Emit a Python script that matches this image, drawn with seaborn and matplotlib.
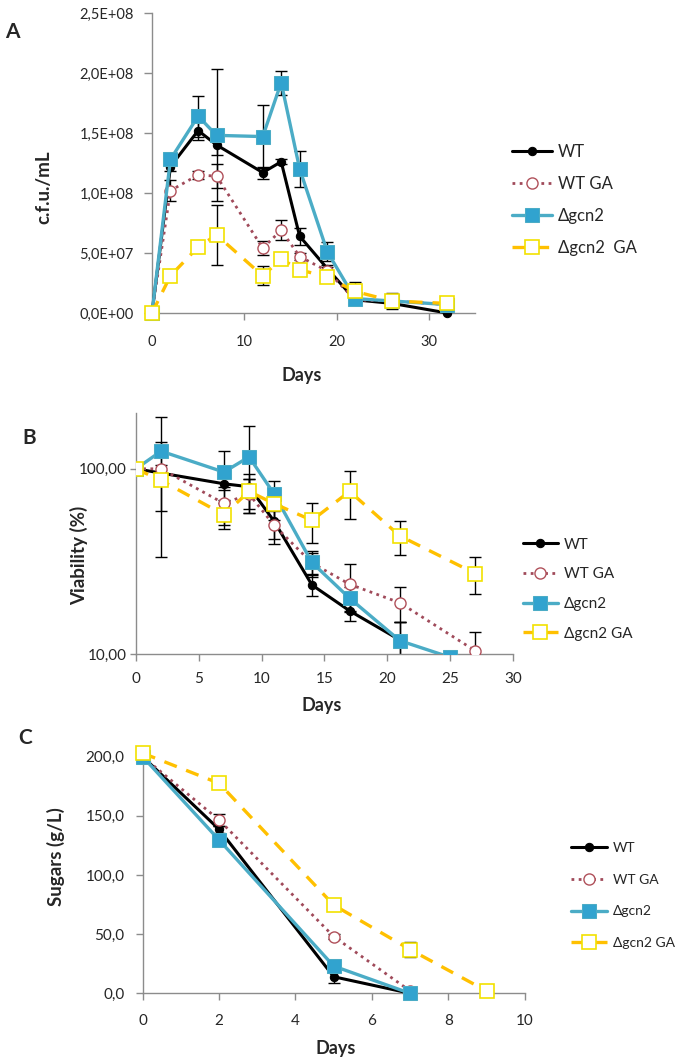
import numpy as np
import pandas as pd
import matplotlib
matplotlib.use("Agg")
import matplotlib.pyplot as plt
from matplotlib.ticker import FixedLocator, FuncFormatter, NullLocator
import seaborn as sns

sns.set_style("white")
plt.rcParams['font.family'] = ['Lato', 'DejaVu Sans']

labels = ['WT', 'WT GA', 'Δgcn2', 'Δgcn2  GA']
labels_bc = ['WT', 'WT GA', 'Δgcn2', 'Δgcn2 GA']

# panel A - c.f.u./mL
days_a = [0, 2, 5, 7, 12, 14, 16, 19, 22, 26, 32]
wt_a = [0, 1.22e8, 1.52e8, 1.40e8, 1.17e8, 1.26e8, 0.64e8, 0.37e8, 0.11e8, 0.08e8, 0]
wt_ga_a = [0, 1.02e8, 1.15e8, 1.14e8, 0.54e8, 0.69e8, 0.47e8, 0.35e8, 0.11e8, 0.10e8, 0.07e8]
gcn2_a = [0, 1.28e8, 1.64e8, 1.48e8, 1.47e8, 1.92e8, 1.20e8, 0.51e8, 0.12e8, 0.10e8, 0.07e8]
gcn2_ga_a = [0, 0.31e8, 0.55e8, 0.65e8, 0.31e8, 0.45e8, 0.36e8, 0.30e8, 0.18e8, 0.10e8, 0.08e8]
wt_a_err = [0, 0.04e8, 0.08e8, 0.08e8, 0.05e8, 0.02e8, 0.07e8, 0.03e8, 0.02e8, 0.02e8, 0]
wt_ga_a_err = [0, 0.09e8, 0.03e8, 0.10e8, 0.06e8, 0.085e8, 0.03e8, 0.03e8, 0.02e8, 0.02e8, 0.02e8]
gcn2_a_err = [0, 0.03e8, 0.17e8, 0.55e8, 0.26e8, 0.10e8, 0.15e8, 0.08e8, 0.03e8, 0.02e8, 0.01e8]
gcn2_ga_a_err = [0, 0.02e8, 0.03e8, 0.25e8, 0.08e8, 0.03e8, 0.03e8, 0.02e8, 0.08e8, 0.07e8, 0.01e8]

# panel B - viability (%)
wt_b_days = [0, 7, 9, 11, 14, 17, 21]
wt_b = [100, 83, 80, 52, 23.6, 17.1, 11.9]
wt_b_err = [0, 6, 8, 10, 3, 2, 3]
wt_ga_b_days = [0, 2, 7, 9, 11, 14, 17, 21, 27]
wt_ga_b = [100, 100, 65, 73, 49.5, 31, 23.8, 18.9, 10.4]
wt_ga_b_err = [0, 5, 15, 15, 10, 5, 7, 4, 2.8]
gcn2_b_days = [0, 2, 7, 9, 11, 14, 17, 21, 25]
gcn2_b = [100, 124.5, 96, 116, 73, 31.2, 20, 11.8, 9.6]
gcn2_b_err = [0, 65, 28, 55, 13, 4, 3, 3, 0]
gcn2_ga_b_days = [0, 2, 7, 9, 11, 14, 17, 21, 27]
gcn2_ga_b = [100, 86.5, 56.5, 75.5, 64.8, 52.7, 75.5, 43.4, 27.2]
gcn2_ga_b_err = [0, 53, 9, 18, 12, 13, 22, 9, 6]

# panel C - sugars (g/L)
days_c = [0, 2, 5, 7]
wt_c = [200, 138.6, 14, 0]
wt_c_err = [0, 3, 5, 0]
wt_ga_c = [200, 146.5, 48, 2]
wt_ga_c_err = [0, 5, 2, 0]
gcn2_c = [200, 129.6, 23, 0]
gcn2_c_err = [0, 2, 2, 0]
gcn2_ga_c_days = [0, 2, 5, 7, 9]
gcn2_ga_c = [203, 177.5, 74.6, 37, 2]
gcn2_ga_c_err = [0, 2, 3, 6, 0]

styles = [
    dict(color='black', linestyle='-', linewidth=2.2, marker='o', markersize=6,
         markerfacecolor='black', markeredgecolor='black'),
    dict(color='#A04A5A', linestyle=(0, (1, 1.6)), linewidth=2.0, marker='o', markersize=8,
         markerfacecolor='white', markeredgecolor='#B0505A', markeredgewidth=1.0),
    dict(color='#4BACC6', linestyle='-', linewidth=2.4, marker='s', markersize=9.5,
         markerfacecolor='#31A3CF', markeredgecolor='#4BACC6'),
    dict(color='#FFC000', linestyle=(0, (4, 3)), linewidth=2.4, marker='s', markersize=10,
         markerfacecolor='white', markeredgecolor='#F2E100', markeredgewidth=1.2),
]

fig = plt.figure(figsize=(6.85, 10.61), dpi=100)
ax_a = fig.add_axes([0.2219, 0.705, 0.4715, 0.2828])
ax_b = fig.add_axes([0.1985, 0.3836, 0.5504, 0.2271])
ax_c = fig.add_axes([0.2083, 0.0638, 0.5577, 0.2230])


def draw(ax, series, legend_labels, anchor, fs, spacing, hl, pad):
    for (x, y, e) in series:
        ax.errorbar(x, y, yerr=e, fmt='none', ecolor='black', elinewidth=1.0,
                    capsize=4, capthick=1.0, zorder=2)
    for i, ((x, y, e), st, lab) in enumerate(zip(series, styles, legend_labels)):
        df = pd.DataFrame({'Days': x, 'val': y})
        sns.lineplot(data=df, x='Days', y='val', ax=ax, sort=False, label=lab,
                     zorder=3 + i, clip_on=False, **st)
    h, l = ax.get_legend_handles_labels()
    ax.legend(h, l, loc='upper left', bbox_to_anchor=anchor,
              bbox_transform=fig.transFigure, frameon=False, fontsize=fs,
              handlelength=hl, handletextpad=pad, labelspacing=spacing, borderpad=0)
    for s in ['top', 'right']:
        ax.spines[s].set_visible(False)
    for s in ['left', 'bottom']:
        ax.spines[s].set_color('#8C8C8C')
        ax.spines[s].set_linewidth(1.0)
    ax.tick_params(axis='both', which='major', direction='out', length=5, width=1,
                   color='#8C8C8C', labelcolor='#262626', bottom=True, left=True)
    ax.set_xlabel('Days', fontsize=13, fontweight='bold')


# A
draw(ax_a, [(days_a, wt_a, wt_a_err), (days_a, wt_ga_a, wt_ga_a_err),
            (days_a, gcn2_a, gcn2_a_err), (days_a, gcn2_ga_a, gcn2_ga_a_err)],
     labels, (0.735, 0.872), 12, 0.95, 2.4, 0.35)
ax_a.set_xlim(0, 35)
ax_a.set_ylim(0, 2.5e8)
ax_a.set_xticks([0, 10, 20, 30])
ax_a.set_yticks(np.arange(0, 2.51e8, 0.5e8))
ax_a.yaxis.set_major_formatter(FuncFormatter(
    lambda v, p: ('%.1E' % v).replace('.', ',')))
ax_a.tick_params(axis='both', labelsize=10.5)
ax_a.tick_params(axis='x', pad=11)
ax_a.tick_params(axis='y', pad=7, length=6)
ax_a.set_ylabel('c.f.u./mL', fontsize=13.5, fontweight='bold')
ax_a.yaxis.set_label_coords(-0.31, 0.42)
ax_a.xaxis.set_label_coords(0.464, -0.18)

# B
draw(ax_b, [(wt_b_days, wt_b, wt_b_err), (wt_ga_b_days, wt_ga_b, wt_ga_b_err),
            (gcn2_b_days, gcn2_b, gcn2_b_err), (gcn2_ga_b_days, gcn2_ga_b, gcn2_ga_b_err)],
     labels_bc, (0.752, 0.5005), 11, 1.03, 2.3, 0.4)
for ln in ax_b.get_lines():
    ln.set_clip_on(True)
ax_b.set_yscale('log')
ax_b.set_xlim(0, 30)
ax_b.set_ylim(10, 200)
ax_b.set_xticks([0, 5, 10, 15, 20, 25, 30])
ax_b.yaxis.set_major_locator(FixedLocator([10, 100]))
ax_b.yaxis.set_minor_locator(NullLocator())
ax_b.yaxis.set_major_formatter(FuncFormatter(lambda v, p: ('%.2f' % v).replace('.', ',')))
ax_b.tick_params(axis='both', labelsize=11)
ax_b.tick_params(axis='x', pad=8)
ax_b.tick_params(axis='y', pad=2.5, length=4)
ax_b.set_ylabel('Viability (%)', fontsize=13.5, fontweight='bold')
ax_b.yaxis.set_label_coords(-0.127, 0.41)
ax_b.xaxis.set_label_coords(0.493, -0.178)

# C
draw(ax_c, [(days_c, wt_c, wt_c_err), (days_c, wt_ga_c, wt_ga_c_err),
            (days_c, gcn2_c, gcn2_c_err), (gcn2_ga_c_days, gcn2_ga_c, gcn2_ga_c_err)],
     labels_bc, (0.823, 0.213), 10, 1.42, 2.6, 0.45)
ax_c.set_xlim(0, 10)
ax_c.set_ylim(0, 200)
ax_c.set_xticks([0, 2, 4, 6, 8, 10])
ax_c.set_yticks([0, 50, 100, 150, 200])
ax_c.yaxis.set_major_formatter(FuncFormatter(lambda v, p: ('%.1f' % v).replace('.', ',')))
ax_c.tick_params(axis='both', labelsize=11)
ax_c.tick_params(axis='x', pad=10)
ax_c.tick_params(axis='y', pad=8)
ax_c.set_ylabel('Sugars (g/L)', fontsize=13.5, fontweight='bold')
ax_c.yaxis.set_label_coords(-0.203, 0.576)
ax_c.xaxis.set_label_coords(0.506, -0.197)

fig.text(0.008, 0.970, 'A', fontsize=15, fontweight='bold', va='center')
fig.text(0.033, 0.587, 'B', fontsize=15, fontweight='bold', va='center')
fig.text(0.026, 0.3045, 'C', fontsize=15, fontweight='bold', va='center')

fig.savefig('out.png', dpi=100)
